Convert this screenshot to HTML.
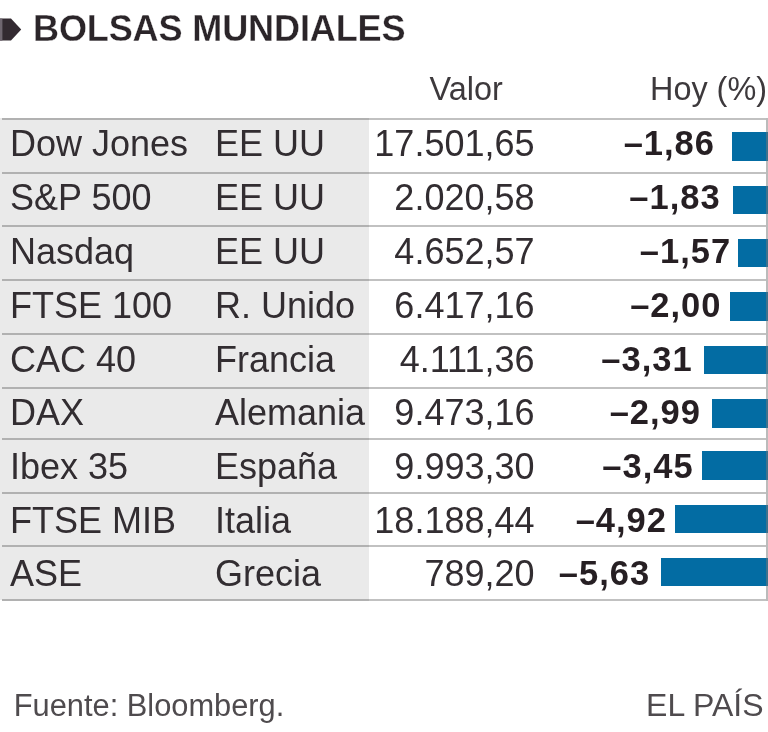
<!DOCTYPE html>
<html lang="es">
<head>
<meta charset="utf-8">
<title>Bolsas mundiales</title>
<style>
html,body{margin:0;padding:0;background:#fff;}
body{width:768px;height:732px;position:relative;overflow:hidden;filter:blur(0.7px);font-family:"Liberation Sans",Arial,Helvetica,sans-serif;color:#322d31;}
.t{position:absolute;white-space:nowrap;font-size:36px;line-height:36px;}
.r{text-align:right;}
.title{left:33px;top:11px;font-size:36.1px;line-height:36px;font-weight:bold;color:#2b2529;letter-spacing:-0.15px;-webkit-text-stroke:0.3px #fff;}
.hd{font-size:32.4px;line-height:32px;color:#3d393c;top:73px;}
.bg{position:absolute;left:0;width:369px;background:#eaeaea;}
.ln{position:absolute;left:2px;width:764px;height:2px;background:linear-gradient(to right,#b1b1b1 0,#b1b1b1 367px,#c1c1c1 367px);}
.vl{position:absolute;left:766px;width:2px;background:rgba(120,120,120,0.5);}
.bar{position:absolute;background:#036ca3;right:0;height:28.6px;}
.p{font-weight:bold;color:#261f23;font-size:34.5px;letter-spacing:1px;margin-top:-1px;}
.ft{font-size:30.8px;line-height:31px;color:#4f4b4e;top:689.7px;}
</style>
</head>
<body>
<svg style="position:absolute;left:0;top:0" width="24" height="48" viewBox="0 0 24 48"><polygon points="0,18.6 11,18.6 21.2,29.6 11,40.6 0,40.6" fill="#332a31"/><rect x="0" y="18.6" width="2.4" height="22" fill="#6f6670"/></svg>
<div class="t title">BOLSAS MUNDIALES</div>
<div class="t hd" style="left:429.6px">Valor</div>
<div class="t hd" style="right:1px">Hoy (%)</div>

<div class="bg" style="top:118.1px;height:481.7px"></div>
<div class="ln" style="top:118.1px"></div>
<div class="ln" style="top:171.6px"></div>
<div class="ln" style="top:225.2px"></div>
<div class="ln" style="top:279.0px"></div>
<div class="ln" style="top:333.1px"></div>
<div class="ln" style="top:386.7px"></div>
<div class="ln" style="top:438.1px"></div>
<div class="ln" style="top:491.6px"></div>
<div class="ln" style="top:545.0px"></div>
<div class="ln" style="top:598.8px"></div>
<div class="t" style="left:10px;top:126.3px">Dow Jones</div>
<div class="t" style="left:215px;top:126.3px">EE UU</div>
<div class="t r" style="right:233.5px;top:126.3px">17.501,65</div>
<div class="t r p" style="right:53px;top:126.3px">–1,86</div>
<div class="bar" style="left:732.4px;top:132.4px"></div>
<div class="t" style="left:10px;top:180.1px">S&amp;P 500</div>
<div class="t" style="left:215px;top:180.1px">EE UU</div>
<div class="t r" style="right:233.5px;top:180.1px">2.020,58</div>
<div class="t r p" style="right:47.4px;top:180.1px">–1,83</div>
<div class="bar" style="left:732.8px;top:185.7px"></div>
<div class="t" style="left:10px;top:234.2px">Nasdaq</div>
<div class="t" style="left:215px;top:234.2px">EE UU</div>
<div class="t r" style="right:233.5px;top:234.2px">4.652,57</div>
<div class="t r p" style="right:36.8px;top:234.2px">–1,57</div>
<div class="bar" style="left:737.6px;top:238.7px"></div>
<div class="t" style="left:10px;top:287.9px">FTSE 100</div>
<div class="t" style="left:215px;top:287.9px">R. Unido</div>
<div class="t r" style="right:233.5px;top:287.9px">6.417,16</div>
<div class="t r p" style="right:46.5px;top:287.9px">–2,00</div>
<div class="bar" style="left:729.6px;top:292.1px"></div>
<div class="t" style="left:10px;top:341.5px">CAC 40</div>
<div class="t" style="left:215px;top:341.5px">Francia</div>
<div class="t r" style="right:233.5px;top:341.5px">4.111,36</div>
<div class="t r p" style="right:75.4px;top:341.5px">–3,31</div>
<div class="bar" style="left:704.3px;top:345.7px"></div>
<div class="t" style="left:10px;top:394.9px">DAX</div>
<div class="t" style="left:215px;top:394.9px">Alemania</div>
<div class="t r" style="right:233.5px;top:394.9px">9.473,16</div>
<div class="t r p" style="right:67px;top:394.9px">–2,99</div>
<div class="bar" style="left:712.1px;top:399.0px"></div>
<div class="t" style="left:10px;top:448.8px">Ibex 35</div>
<div class="t" style="left:215px;top:448.8px">España</div>
<div class="t r" style="right:233.5px;top:448.8px">9.993,30</div>
<div class="t r p" style="right:74.3px;top:448.8px">–3,45</div>
<div class="bar" style="left:702.0px;top:451.1px"></div>
<div class="t" style="left:10px;top:502.6px">FTSE MIB</div>
<div class="t" style="left:215px;top:502.6px">Italia</div>
<div class="t r" style="right:233.5px;top:502.6px">18.188,44</div>
<div class="t r p" style="right:101px;top:502.6px">–4,92</div>
<div class="bar" style="left:674.6px;top:504.5px"></div>
<div class="t" style="left:10px;top:556.2px">ASE</div>
<div class="t" style="left:215px;top:556.2px">Grecia</div>
<div class="t r" style="right:233.5px;top:556.2px">789,20</div>
<div class="t r p" style="right:117.8px;top:556.2px">–5,63</div>
<div class="bar" style="left:660.9px;top:557.7px"></div>
<div class="vl" style="top:118.1px;height:482.7px"></div>
<div class="t ft" style="left:13.8px">Fuente: Bloomberg.</div>
<div class="t ft" style="right:4.5px;font-size:32px">EL PAÍS</div>
</body>
</html>
